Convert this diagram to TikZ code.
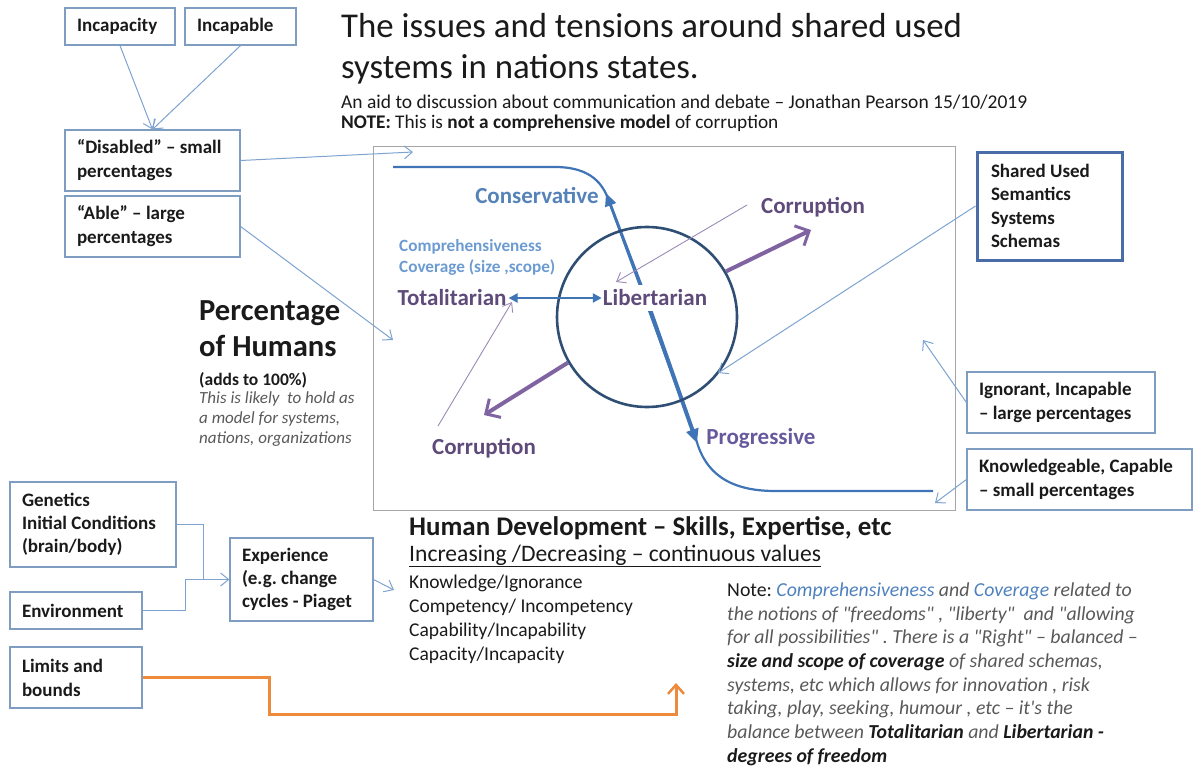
\documentclass[tikz,border=0pt]{standalone}
\usepackage{fontspec}
\setmainfont{Carlito}[Ligatures=TeXOff]
\usetikzlibrary{arrows.meta,shapes.geometric}
\definecolor{boxc}{HTML}{7F9DC0}
\definecolor{linec}{HTML}{7EA3D0}
\definecolor{framec}{HTML}{A6A6A6}
\definecolor{sharedc}{HTML}{4A6DA7}
\definecolor{circc}{HTML}{2F4E74}
\definecolor{axisc}{HTML}{3F74B6}
\definecolor{purpc}{HTML}{8064A2}
\definecolor{labp}{HTML}{5F4B7A}
\definecolor{progc}{HTML}{66599C}
\definecolor{consc}{HTML}{5582B8}
\definecolor{compc}{HTML}{6C9BD2}
\definecolor{noteg}{HTML}{595959}
\definecolor{noteb}{HTML}{4F81BD}
\definecolor{thinp}{HTML}{9A8AB5}
\definecolor{orangec}{HTML}{EE8A3C}
\definecolor{txt}{HTML}{1A1A1A}
\begin{document}
\frenchspacing
\begin{tikzpicture}[x=1pt,y=-1pt,
  box/.style={draw=boxc,line width=1.2pt,inner xsep=12pt,inner ysep=0pt,align=flush left,
    font=\fontsize{19}{24}\selectfont\bfseries,text=txt},
  conn/.style={draw=linec,line width=1pt,-{Straight Barb[length=8pt,width=13pt]}},
  thinarr/.style={draw=thinp,line width=0.9pt,-{Straight Barb[length=8pt,width=12pt]}},
  purparr/.style={draw=purpc,line width=4pt,-{Straight Barb[length=11pt,width=22pt,line width=3pt]}},
  lbl/.style={font=\fontsize{23}{26}\selectfont\bfseries,inner sep=2pt},
  ln/.style={anchor=base west,inner sep=0pt,text=txt},
  notel/.style={anchor=base west,inner sep=0pt,text=noteg,font=\fontsize{19.8}{23}\selectfont\itshape},
]
\useasboundingbox (0,0) rectangle (1194,771);

% ---- title ----
\node[ln,font=\fontsize{34.8}{40}\selectfont] (title1) at (341,37) {The issues and tensions around shared used};
\node[ln,font=\fontsize{34.8}{40}\selectfont] (title2) at (341,78) {systems in nations states.};
\node[ln,font=\fontsize{19.5}{22}\selectfont] (sub1) at (341,108) {An aid to discussion about communication and debate – Jonathan Pearson 15/10/2019};
\node[ln,font=\fontsize{19.3}{22}\selectfont] (sub2) at (341,128) {\textbf{NOTE:} This is \textbf{not a comprehensive model} of corruption};

% ---- top-left boxes ----
\node[box,minimum width=110pt,minimum height=37pt,text width=86pt] (incapacity) at (120,26.5) {Incapacity};
\node[box,minimum width=111pt,minimum height=37pt,text width=87pt] (incapable) at (240.5,26.5) {Incapable};
\node[box,minimum width=175pt,minimum height=61pt,text width=151pt] (disabled) at (152.5,160.5) {“Disabled” – small\\percentages};
\node[box,minimum width=175pt,minimum height=61pt,text width=151pt] (able) at (152.5,226.5) {“Able” – large\\percentages};

% ---- main frame ----
\node[draw=framec,line width=1pt,minimum width=582pt,minimum height=364pt,inner sep=0pt] (frame) at (664,328) {};

% ---- S-curve and axis ----
\coordinate (sStart) at (393,167);
\coordinate (sEnd) at (933,491);
\coordinate (axc) at (646,298);
\coordinate (constip) at (606,193);
\coordinate (progtip) at (697,443);
\draw[axisc,line width=2.2pt] (sStart) -- (555,167) .. controls (592,167) and (603,185) .. (608.6,200)
   -- (696.3,440) .. controls (705,472) and (728,491) .. (775,491) -- (sEnd);
\draw[axisc,line width=2.8pt,-{Triangle[length=13pt,width=11pt]}] (axc) -- (constip);
\draw[axisc,line width=4pt,-{Triangle[length=14pt,width=12pt]}] (axc) -- (progtip);

% ---- circle ----
\node[draw=circc,line width=2.6pt,circle,minimum size=180pt,inner sep=0pt] (circ) at (647,317) {};

% ---- purple arrows ----
\coordinate (purtip1) at (811,230);
\coordinate (purtip2) at (484,415);
\draw[purparr] (circ.30) -- (purtip1);
\draw[purparr] (circ.210) -- (purtip2);

% ---- labels ----
\node[lbl,text=consc] (cons) at (537,195) {Conservative};
\node[lbl,text=labp] (corrtr) at (813,207) {Corruption};
\node[anchor=west,inner sep=0pt,text=compc,font=\fontsize{17.2}{20}\selectfont\bfseries] (comp1) at (399,247) {Comprehensiveness};
\node[anchor=west,inner sep=0pt,text=compc,font=\fontsize{17.2}{20}\selectfont\bfseries] (comp2) at (399,268) {Coverage (size ,scope)};
\node[lbl,text=labp] (totl) at (452,298) {Totalitarian};
\node[lbl,text=labp,fill=white,inner ysep=5pt,inner xsep=1pt] (libt) at (655,298) {Libertarian};
\node[lbl,text=labp] (corrbl) at (484,448) {Corruption};
\node[lbl,text=progc] (prog) at (761,438) {Progressive};

\draw[axisc,line width=2.6pt,{Triangle[length=9pt,width=9pt]}-{Triangle[length=9pt,width=9pt]}] (totl.east) -- (libt.west);

% thin corruption arrows
\coordinate (ctip1) at (616,282);
\coordinate (ctip2) at (512,302);
\coordinate (cstart1) at (747,205);
\coordinate (cstart2) at (438,426);
\draw[thinarr] (cstart1) -- (ctip1);
\draw[thinarr] (cstart2) -- (ctip2);

% ---- right boxes ----
\node[box,draw=sharedc,line width=3pt,inner xsep=14pt,minimum width=145pt,minimum height=108pt,text width=117pt,font=\fontsize{19}{23.5}\selectfont\bfseries] (shared) at (1049.5,206) {Shared Used\\Semantics\\Systems\\Schemas};
\node[box,minimum width=188pt,minimum height=61pt,text width=164pt] (ignorant) at (1061,402.5) {Ignorant, Incapable\\– large percentages};
\node[box,minimum width=225pt,minimum height=61pt,text width=201pt] (knowl) at (1079.5,479.5) {Knowledgeable, Capable\\– small percentages};

% ---- left side text ----
\node[ln,font=\fontsize{30.6}{34}\selectfont\bfseries] (pct1) at (199,320) {Percentage};
\node[ln,font=\fontsize{30.6}{34}\selectfont\bfseries] (pct2) at (199,356) {of Humans};
\node[ln,font=\fontsize{17.5}{20}\selectfont\bfseries] (pct3) at (199,385) {(adds to 100\%)};
\node[ln,text=noteg,font=\fontsize{17}{20}\selectfont\itshape] (pct4) at (199,403) {This is likely~ to hold as};
\node[ln,text=noteg,font=\fontsize{17}{20}\selectfont\itshape] (pct5) at (199,423) {a model for systems,};
\node[ln,text=noteg,font=\fontsize{17}{20}\selectfont\itshape] (pct6) at (199,443) {nations, organizations};

% ---- connectors top-left ----
\coordinate (dtip) at (413,152);
\coordinate (atip) at (393,340);
\draw[conn] (incapacity.south) -- (disabled.north);
\draw[conn] (incapable.south) -- (disabled.north);
\draw[conn] (disabled.east) -- (dtip);
\draw[conn] (able.east) -- (atip);

% ---- connectors right ----
\coordinate (stip) at (718,373);
\coordinate (itip) at (923,340);
\coordinate (ktip) at (935,503);
\draw[conn] (shared.west) -- (stip);
\draw[conn] (ignorant.west) -- (itip);
\draw[conn] (knowl.west) -- (ktip);

% ---- bottom-left boxes ----
\node[box,minimum width=166pt,minimum height=85pt,text width=142pt,font=\fontsize{19}{23}\selectfont\bfseries] (genetics) at (93,524.5) {Genetics\\Initial Conditions\\(brain/body)};
\node[box,minimum width=132pt,minimum height=37pt,text width=108pt] (environment) at (76,610.5) {Environment};
\node[box,minimum width=132pt,minimum height=61pt,text width=108pt] (limits) at (76,677.5) {Limits and\\bounds};
\node[box,minimum width=143pt,minimum height=83pt,text width=119pt,font=\fontsize{19}{23}\selectfont\bfseries] (experience) at (301.5,579.5) {Experience\\(e.g. change\\cycles - Piaget};

\draw[draw=linec,line width=1pt] (genetics.east) -- ++(27,0) |- (experience.west);
\draw[conn] (environment.east) -- ++(43,0) |- (experience.west);
\coordinate (etip) at (394,590);
\draw[conn] (experience.east) -- (etip);

\coordinate (otip) at (676,683);
\draw[draw=orangec,line width=3pt,-{Straight Barb[length=9pt,width=16pt,line width=2.5pt]}] (limits.east) -- (269,677.5) -- (269,714) -- (676,714) -- (otip);

% ---- human development ----
\node[ln,font=\fontsize{26.9}{30}\selectfont\bfseries] (hd) at (409,535) {Human Development – Skills, Expertise, etc};
\node[ln,font=\fontsize{23.6}{26}\selectfont] (inc) at (409,561) {\underline{Increasing /Decreasing – continuous values}};
\node[ln,font=\fontsize{19.5}{22}\selectfont] (k1) at (409,588) {Knowledge/Ignorance};
\node[ln,font=\fontsize{19.5}{22}\selectfont] (k2) at (409,612) {Competency/ Incompetency};
\node[ln,font=\fontsize{19.5}{22}\selectfont] (k3) at (409,636) {Capability/Incapability};
\node[ln,font=\fontsize{19.5}{22}\selectfont] (k4) at (409,660) {Capacity/Incapacity};

% ---- note ----
\node[notel] (n1) at (727,596) {{\upshape\color{txt}Note:} \textcolor{noteb}{Comprehensiveness} and \textcolor{noteb}{Coverage} related to};
\node[notel] (n2) at (727,620) {the notions of "freedoms" , "liberty"~ and "allowing};
\node[notel] (n3) at (727,643) {for all possibilities" . There is a "Right" – balanced –};
\node[notel] (n4) at (727,667) {\textcolor{txt}{\bfseries size and scope of coverage} of shared schemas,};
\node[notel] (n5) at (727,691) {systems, etc which allows for innovation , risk};
\node[notel] (n6) at (727,714) {taking, play, seeking, humour , etc – it's the};
\node[notel] (n7) at (727,738) {balance between \textcolor{txt}{\bfseries Totalitarian} and \textcolor{txt}{\bfseries Libertarian -}};
\node[notel] (n8) at (727,762) {\textcolor{txt}{\bfseries degrees of freedom}};
\end{tikzpicture}
\end{document}
